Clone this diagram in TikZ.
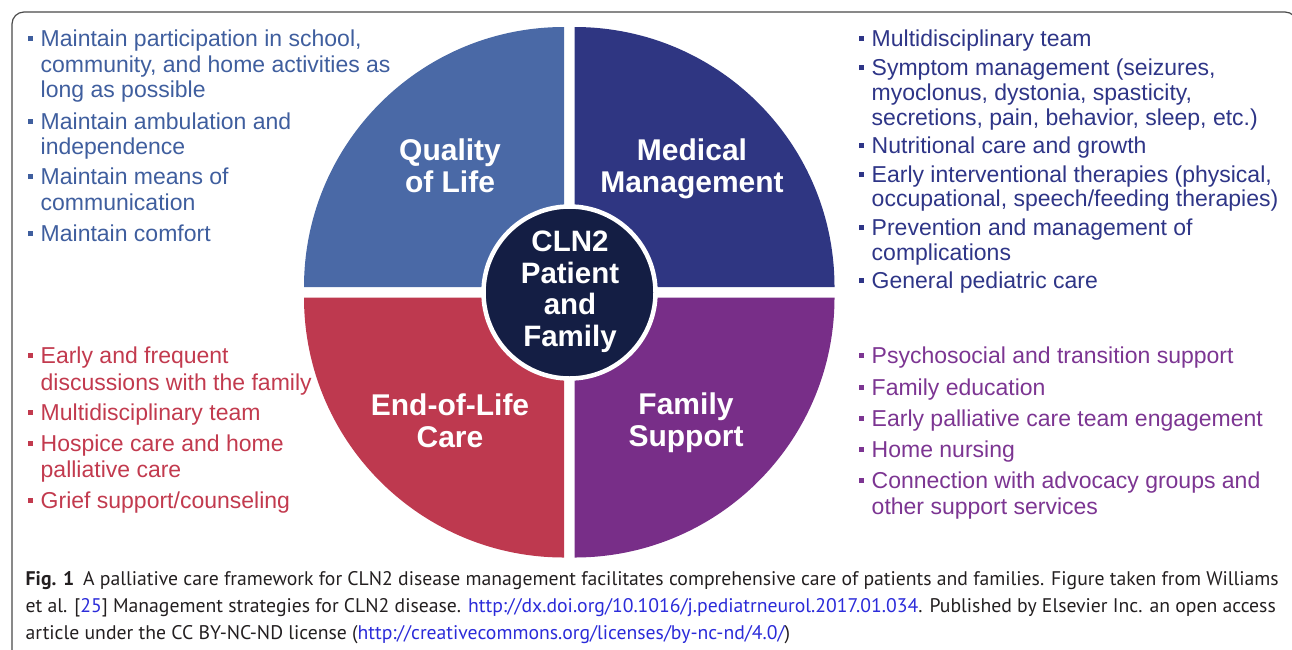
\documentclass[tikz,border=0pt]{standalone}
\usepackage{fontspec}
\setmainfont{Liberation Sans}
\newfontfamily\capfont{PT Sans}
\definecolor{qolC}{HTML}{4A69A6}
\definecolor{medC}{HTML}{2F3682}
\definecolor{eolC}{HTML}{BE394F}
\definecolor{famC}{HTML}{782E88}
\definecolor{ctrC}{HTML}{141E44}
\definecolor{qolT}{HTML}{3F5E9E}
\definecolor{medT}{HTML}{2E3587}
\definecolor{eolT}{HTML}{C23A4E}
\definecolor{famT}{HTML}{7C3592}
\definecolor{capT}{HTML}{231F20}
\definecolor{lnkC}{HTML}{2B2BD9}
\definecolor{frameC}{HTML}{4A4A4A}
\newcommand{\bul}{\llap{\rule[5.5pt]{5pt}{5pt}\hspace{8pt}}}
\newcommand{\lnk}[1]{\textcolor{lnkC}{#1}}
\tikzset{
  lst/.style={anchor=base west, inner sep=0pt, font=\fontsize{23}{25}\selectfont},
  quad/.style={align=center, inner sep=0pt, text=white, font=\fontsize{30}{32}\selectfont\bfseries},
  capline/.style={anchor=base west, inner sep=0pt, text=capT, font=\capfont\fontsize{19.7}{27}\selectfont},
}
\begin{document}
\begin{tikzpicture}[x=1pt, y=-1pt]
\useasboundingbox (0,0) rectangle (1292,649);
% frame
\draw[frameC, line width=1.2pt, rounded corners=12pt] (12,700) -- (12,12) -- (1297,12) -- (1297,700);
% quadrants
\fill[qolC] (564,287) -- (304,287) arc[start angle=180, end angle=270, radius=260] -- cycle;
\fill[medC] (574.5,287) -- (574.5,27) arc[start angle=270, end angle=360, radius=260] -- cycle;
\fill[eolC] (564,297.5) -- (304,297.5) arc[start angle=180, end angle=90, radius=260] -- cycle;
\fill[famC] (574.5,297.5) -- (834.5,297.5) arc[start angle=0, end angle=90, radius=260] -- cycle;
% center
\node[circle, fill=ctrC, draw=white, line width=4.5pt, minimum size=172pt, inner sep=0pt] (ctr) at (569.5,292.5) {};
\node[align=center, inner sep=0pt, text=white, font=\fontsize{29.5}{31.5}\selectfont\bfseries] (ctrtxt) at (570,292) {CLN2\\Patient\\and\\Family};
\node[quad] (qol) at (450,166) {Quality\\of Life};
\node[quad] (med) at (692,168.5) {Medical\\Management};
\node[quad] (eol) at (450,421) {End-of-Life\\Care};
\node[quad] (fam) at (686,423) {Family\\Support};
% left top
\begin{scope}[every node/.style={lst, text=qolT}]
\node (a1) at (40.5,46.5) {\bul Maintain participation in school,};
\node (a1b) at (40.5,72) {community, and home activities as};
\node (a1c) at (40.5,97.5) {long as possible};
\node (a2) at (40.5,129) {\bul Maintain ambulation and};
\node (a2b) at (40.5,154) {independence};
\node (a3) at (40.5,184.5) {\bul Maintain means of};
\node (a3b) at (40.5,210.5) {communication};
\node (a4) at (40.5,241.5) {\bul Maintain comfort};
\end{scope}
% right top
\begin{scope}[every node/.style={lst, text=medT}]
\node (b1) at (871.5,46.5) {\bul Multidisciplinary team};
\node (b2) at (871.5,75.5) {\bul Symptom management (seizures,};
\node (b2b) at (871.5,100.5) {myoclonus, dystonia, spasticity,};
\node (b2c) at (871.5,125.5) {secretions, pain, behavior, sleep, etc.)};
\node (b3) at (871.5,153.5) {\bul Nutritional care and growth};
\node (b4) at (871.5,182) {\bul Early interventional therapies (physical,};
\node (b4b) at (871.5,206.5) {occupational, speech/feeding therapies)};
\node (b5) at (871.5,235.5) {\bul Prevention and management of};
\node (b5b) at (871.5,260.5) {complications};
\node (b6) at (871.5,288.5) {\bul General pediatric care};
\end{scope}
% left bottom
\begin{scope}[every node/.style={lst, text=eolT}]
\node (c1) at (40.5,363.5) {\bul Early and frequent};
\node (c1b) at (40.5,390) {discussions with the family};
\node (c2) at (40.5,420) {\bul Multidisciplinary team};
\node (c3) at (40.5,451) {\bul Hospice care and home};
\node (c3b) at (40.5,477) {palliative care};
\node (c4) at (40.5,508) {\bul Grief support/counseling};
\end{scope}
% right bottom
\begin{scope}[every node/.style={lst, text=famT}]
\node (d1) at (871.5,363) {\bul Psychosocial and transition support};
\node (d2) at (871.5,395) {\bul Family education};
\node (d3) at (871.5,426) {\bul Early palliative care team engagement};
\node (d4) at (871.5,457) {\bul Home nursing};
\node (d5) at (871.5,488) {\bul Connection with advocacy groups and};
\node (d5b) at (871.5,514) {other support services};
\end{scope}
% caption
\node[capline] (cap1) at (25.5,585) {\textbf{Fig. 1}\hspace{9pt}A palliative care framework for CLN2 disease management facilitates comprehensive care of patients and families. Figure taken from Williams};
\node[capline] (cap2) at (25.5,612) {et al. [\lnk{25}] Management strategies for CLN2 disease. \lnk{http://dx.doi.org/10.1016/j.pediatrneurol.2017.01.034}. Published by Elsevier Inc. an open access};
\node[capline] (cap3) at (25.5,639) {article under the CC BY-NC-ND license (\lnk{http://creativecommons.org/licenses/by-nc-nd/4.0/})};
\end{tikzpicture}
\end{document}
